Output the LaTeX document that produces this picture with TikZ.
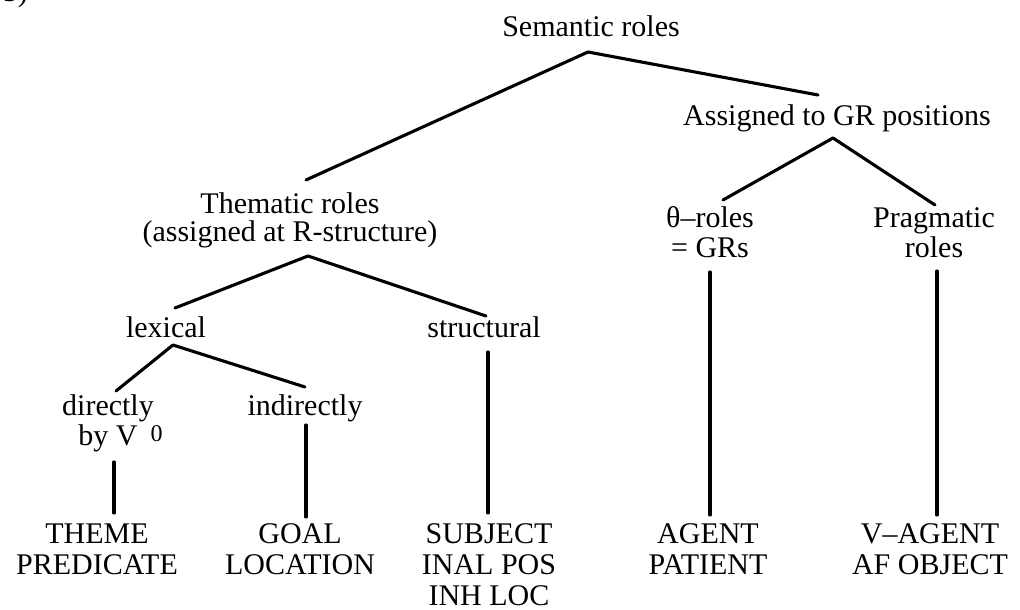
\documentclass[tikz,border=0pt]{standalone}
\usepackage{fontspec}
\setmainfont{Liberation Serif}
\begin{document}
\begin{tikzpicture}[x=1pt,y=-1pt,
  lbl/.style={inner sep=0pt, anchor=base, align=center, font=\fontsize{30}{30}\selectfont},
  bot/.style={lbl, font=\fontsize{30}{31}\selectfont},
  edge/.style={line width=3.1pt, line cap=round}]
\useasboundingbox (0,0) rectangle (1020,610);
% cut-off label at the top-left corner
\node[inner sep=0pt, anchor=base east, font=\fontsize{30}{30}\selectfont] (num) at (28,2) {5)};
% nodes (anchor base = baseline of the last line)
\node[lbl] (sem) at (591,37) {Semantic roles};
\node[lbl] (asg) at (837,125) {Assigned to GR positions};
\node[lbl, font=\fontsize{30}{28}\selectfont] (them) at (290,241) {Thematic roles\\(assigned at R-structure)};
\node[lbl] (theta) at (710,257) {θ–roles\\= GRs};
\node[lbl] (prag) at (934,257) {Pragmatic\\roles};
\node[lbl] (lex) at (166,337) {lexical};
\node[lbl] (struc) at (484,337) {structural};
\node[lbl] (dir) at (108,445) {directly\\by V\rlap{\hspace{13pt}\raisebox{4pt}{\fontsize{24}{24}\selectfont 0}}};
\node[lbl] (ind) at (305,415) {indirectly};
\node[bot] (theme) at (97,574) {THEME\\PREDICATE};
\node[bot] (goal) at (300,574) {GOAL\\LOCATION};
\node[bot] (subj) at (489,605) {SUBJECT\\INAL POS\\INH LOC};
\node[bot] (agent) at (708,574) {AGENT\\PATIENT};
\node[bot] (vag) at (930,574) {V–AGENT\\AF OBJECT};
% connectors
\draw[edge] ([shift={(-3pt,-15pt)}]sem.base) -- ([shift={(16pt,61pt)}]them.base);
\draw[edge] ([shift={(-3pt,-15pt)}]sem.base) -- ([shift={(-19pt,30pt)}]asg.base);
\draw[edge] ([shift={(18pt,-15pt)}]them.base) -- ([shift={(9pt,29pt)}]lex.base);
\draw[edge] ([shift={(18pt,-15pt)}]them.base) -- ([shift={(2pt,21pt)}]struc.base);
\draw[edge] ([shift={(-4pt,-13pt)}]asg.base) -- ([shift={(13pt,57pt)}]theta.base);
\draw[edge] ([shift={(-4pt,-13pt)}]asg.base) -- ([shift={(1pt,52pt)}]prag.base);
\draw[edge] ([shift={(7pt,-8pt)}]lex.base) -- ([shift={(8pt,54pt)}]dir.base);
\draw[edge] ([shift={(7pt,-8pt)}]lex.base) -- ([shift={(0pt,28pt)}]ind.base);
\draw[edge] ([shift={(6pt,-17pt)}]dir.base) -- ([shift={(17pt,61pt)}]theme.base);
\draw[edge] ([shift={(1pt,-10pt)}]ind.base) -- ([shift={(6pt,57pt)}]goal.base);
\draw[edge] ([shift={(4pt,-15pt)}]struc.base) -- ([shift={(-1pt,92pt)}]subj.base);
\draw[edge] ([shift={(0pt,-15pt)}]theta.base) -- ([shift={(2pt,59pt)}]agent.base);
\draw[edge] ([shift={(3pt,-14pt)}]prag.base) -- ([shift={(7pt,59pt)}]vag.base);
\end{tikzpicture}
\end{document}
